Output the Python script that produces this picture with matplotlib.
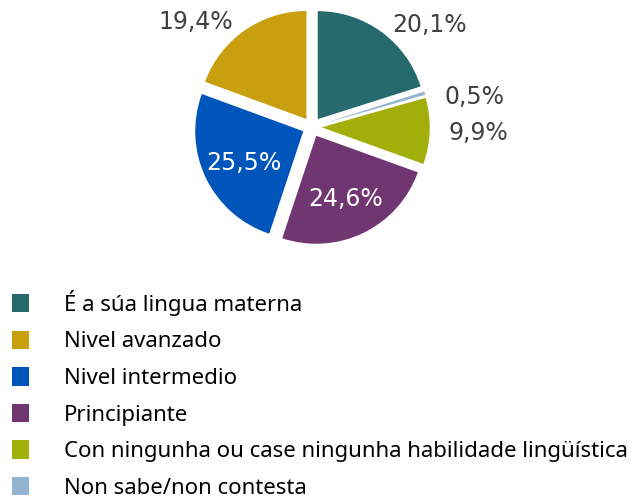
import matplotlib
matplotlib.use("Agg")
import matplotlib.pyplot as plt
import numpy as np

# Data (clockwise from top)
categories = ["É a súa lingua materna", "Non sabe/non contesta",
              "Con ningunha ou case ningunha habilidade lingüística",
              "Principiante", "Nivel intermedio", "Nivel avanzado"]
values = [20.1, 0.5, 9.9, 24.6, 25.5, 19.4]
labels = ["20,1%", "0,5%", "9,9%", "24,6%", "25,5%", "19,4%"]
legend_order = ["É a súa lingua materna", "Nivel avanzado", "Nivel intermedio",
                "Principiante",
                "Con ningunha ou case ningunha habilidade lingüística",
                "Non sabe/non contesta"]

colors = {"É a súa lingua materna": "#276A6E",
          "Non sabe/non contesta": "#92B4D0",
          "Con ningunha ou case ningunha habilidade lingüística": "#A2AE0A",
          "Principiante": "#703672",
          "Nivel intermedio": "#0055BB",
          "Nivel avanzado": "#C8A00F"}
# label positions (data units, radius = 1) and colours
label_pos = [(1.09, 0.94), (1.50, 0.28), (1.54, -0.06), (0.31, -0.67), (-0.63, -0.33), (-1.08, 0.97)]
label_col = ["#404040", "#404040", "#404040", "white", "white", "#404040"]

W, H = 634, 498
fig = plt.figure(figsize=(W / 100, H / 100), dpi=100)
cx, cy, R = 312, 127, 108
half = 200
ax = fig.add_axes([(cx - half) / W, 1 - (cy + half) / H, 2 * half / W, 2 * half / H])
wedges, _ = ax.pie(values, colors=[colors[c] for c in categories], startangle=90,
                   counterclock=False, explode=[0.09] * len(values), radius=1,
                   wedgeprops=dict(linewidth=0))
lim = half / R
ax.set_xlim(-lim, lim)
ax.set_ylim(-lim, lim)
ax.set_aspect("equal")
ax.axis("off")
for (x, y), t, c in zip(label_pos, labels, label_col):
    ax.text(x, y, t, ha="center", va="center", fontsize=17, color=c, family="DejaVu Sans")

from matplotlib.patches import Patch
handles = [Patch(facecolor=colors[c], edgecolor="none") for c in legend_order]
fig.legend(handles, legend_order, loc="upper left", bbox_to_anchor=(0.005, 1 - 281 / H),
           frameon=False, prop=dict(family="Noto Sans", size=16), handlelength=0.77,
           handleheight=0.9, handletextpad=1.55, labelspacing=0.66, borderaxespad=0)

fig.savefig("out.png", dpi=100, facecolor="white")
